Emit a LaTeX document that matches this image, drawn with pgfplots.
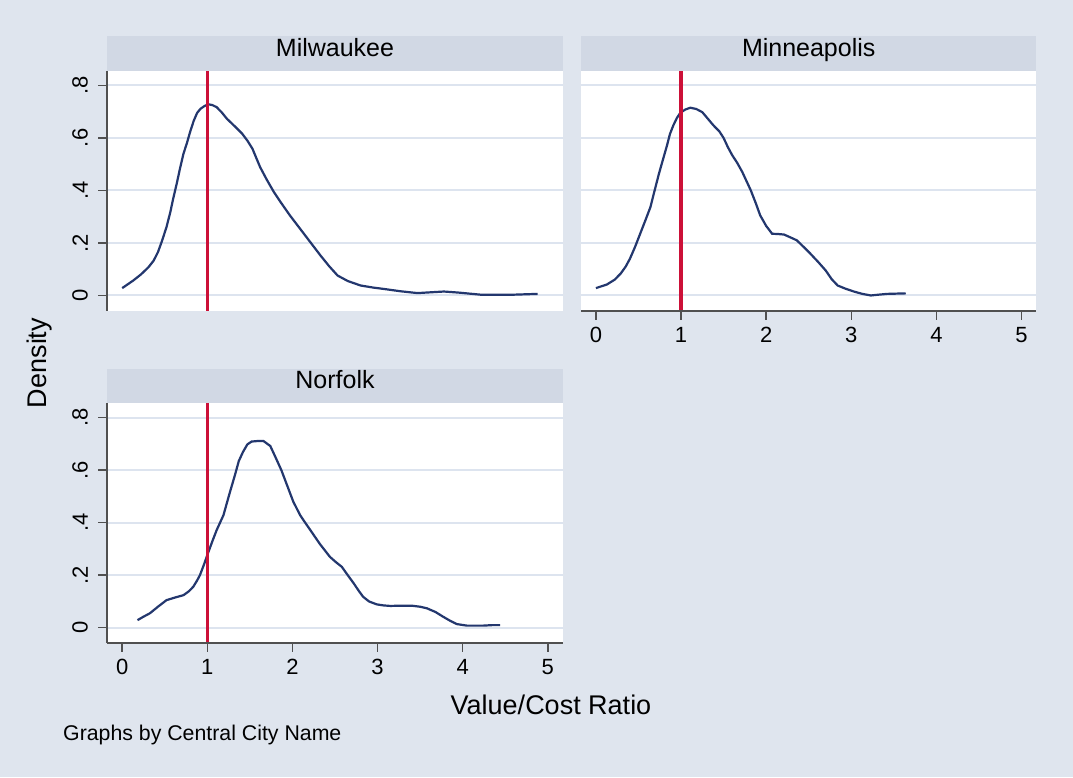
\documentclass[border=0pt]{standalone}
\usepackage{fontspec}
\setmainfont{Liberation Sans}
\usepackage{pgfplots}
\pgfplotsset{compat=1.18}
\definecolor{bgcol}{HTML}{DFE5EE}
\definecolor{stripcol}{HTML}{D1D8E4}
\definecolor{gridcol}{HTML}{DDE4EF}
\definecolor{axiscol}{HTML}{505050}
\definecolor{curvecol}{RGB}{35,55,110}
\definecolor{redcol}{RGB}{204,16,56}
\pgfplotsset{
  panel/.style={
    scale only axis, width=455.4pt, height=240pt,
    xmin=-0.175, xmax=5.175, ymin=-0.058, ymax=0.856,
    clip=false,
    axis background/.style={fill=white},
    axis line style={draw=none},
    ytick={0,0.2,0.4,0.6,0.8}, yticklabels={0,.2,.4,.6,.8},
    xtick={0,1,2,3,4,5}, xticklabels={0,1,2,3,4,5},
    xtick pos=bottom, ytick pos=left,
    ymajorgrids, major grid style={gridcol, line width=2pt},
    tick style={axiscol, line width=1.5pt},
    major tick length=9pt, tick align=outside,
    /pgf/number format/assume math mode=true,
    every tick label/.append style={font=\fontsize{22}{26}\selectfont},
    yticklabel style={rotate=90, anchor=south, yshift=7pt},
    xticklabel style={yshift=-4pt},
  },
  dens/.style={curvecol, line width=2.2pt},
  refl/.style={redcol, line width=3.5pt},
}
\begin{document}
\begin{tikzpicture}
\fill[bgcol] (0,0) rectangle (1073pt,777pt);
\useasboundingbox (0,0) rectangle (1073pt,777pt);

% strips
\fill[stripcol] (107.3pt,706.3pt) rectangle (562.7pt,740.6pt);
\fill[stripcol] (581pt,706.3pt) rectangle (1036.4pt,740.6pt);
\fill[stripcol] (107.3pt,374.3pt) rectangle (562.7pt,407.7pt);
\node[font=\fontsize{25}{30}\selectfont, text height=0.75em, text depth=0.25em] at (335pt,723.45pt) {Milwaukee};
\node[font=\fontsize{25}{30}\selectfont, text height=0.75em, text depth=0.25em] at (808.7pt,723.45pt) {Minneapolis};
\node[font=\fontsize{25}{30}\selectfont, text height=0.75em, text depth=0.25em] at (335pt,391pt) {Norfolk};

% Milwaukee
\begin{axis}[panel, at={(107.3pt,466.3pt)}, anchor=south west, xtick=\empty]
\addplot[dens] coordinates {(0.00,0.028) (0.13,0.057) (0.22,0.080) (0.31,0.108) (0.37,0.133) (0.42,0.165) (0.47,0.21) (0.52,0.26) (0.565,0.317) (0.60,0.37) (0.64,0.425) (0.68,0.485) (0.72,0.54) (0.76,0.58) (0.80,0.625) (0.84,0.665) (0.88,0.695) (0.92,0.711) (0.97,0.722) (1.015,0.728) (1.06,0.725) (1.11,0.717) (1.17,0.697) (1.23,0.673) (1.32,0.645) (1.41,0.616) (1.47,0.59) (1.53,0.559) (1.58,0.52) (1.62,0.489) (1.70,0.44) (1.78,0.395) (1.86,0.356) (1.97,0.305) (2.09,0.254) (2.21,0.203) (2.33,0.152) (2.43,0.112) (2.53,0.076) (2.65,0.055) (2.8,0.038) (2.95,0.030) (3.07,0.025) (3.27,0.016) (3.47,0.009) (3.62,0.012) (3.78,0.015) (3.95,0.011) (4.21,0.003) (4.6,0.003) (4.88,0.006)};
\addplot[refl] coordinates {(1,-0.058) (1,0.856)};
\draw[axiscol, line width=2pt] (rel axis cs:0,0) -- (rel axis cs:0,1);
\end{axis}

% Minneapolis
\begin{axis}[panel, at={(581pt,466.3pt)}, anchor=south west, yticklabels={}, ytick style={draw=none}]
\addplot[dens] coordinates {(0,0.028) (0.13,0.042) (0.22,0.06) (0.29,0.083) (0.35,0.11) (0.40,0.14) (0.46,0.185) (0.52,0.235) (0.58,0.285) (0.64,0.336) (0.69,0.40) (0.74,0.463) (0.79,0.52) (0.835,0.571) (0.87,0.615) (0.91,0.648) (0.95,0.675) (0.99,0.695) (1.05,0.708) (1.11,0.715) (1.18,0.71) (1.25,0.698) (1.31,0.675) (1.38,0.648) (1.45,0.625) (1.50,0.60) (1.55,0.565) (1.60,0.535) (1.66,0.505) (1.72,0.47) (1.77,0.435) (1.82,0.40) (1.88,0.35) (1.93,0.305) (2.00,0.265) (2.07,0.235) (2.14,0.234) (2.21,0.232) (2.28,0.222) (2.36,0.21) (2.44,0.185) (2.52,0.159) (2.61,0.128) (2.70,0.095) (2.77,0.062) (2.84,0.038) (2.93,0.026) (3.03,0.015) (3.13,0.006) (3.23,0.0) (3.32,0.003) (3.42,0.006) (3.53,0.007) (3.64,0.008)};
\addplot[refl] coordinates {(1,-0.058) (1,0.856)};
\draw[axiscol, line width=2pt] (rel axis cs:0,0) -- (rel axis cs:1,0);
\end{axis}

% Norfolk
\begin{axis}[panel, at={(107.3pt,134.3pt)}, anchor=south west, ymin=-0.057, ymax=0.857]
\addplot[dens] coordinates {(0.18,0.029) (0.25,0.042) (0.325,0.055) (0.42,0.08) (0.52,0.105) (0.62,0.115) (0.72,0.124) (0.78,0.138) (0.835,0.156) (0.88,0.18) (0.913,0.2) (0.96,0.24) (1.0,0.277) (1.06,0.33) (1.11,0.372) (1.19,0.429) (1.26,0.51) (1.325,0.582) (1.37,0.635) (1.42,0.67) (1.47,0.698) (1.52,0.709) (1.59,0.711) (1.66,0.711) (1.74,0.692) (1.80,0.65) (1.87,0.60) (1.94,0.54) (2.01,0.48) (2.09,0.429) (2.15,0.40) (2.21,0.372) (2.32,0.32) (2.44,0.27) (2.51,0.25) (2.58,0.232) (2.65,0.20) (2.72,0.169) (2.78,0.14) (2.83,0.118) (2.90,0.10) (2.99,0.089) (3.07,0.085) (3.15,0.083) (3.28,0.084) (3.40,0.084) (3.50,0.08) (3.58,0.074) (3.68,0.06) (3.77,0.042) (3.85,0.027) (3.93,0.014) (4.05,0.008) (4.24,0.008) (4.35,0.01) (4.44,0.01)};
\addplot[refl] coordinates {(1,-0.057) (1,0.857)};
\draw[axiscol, line width=2pt] (rel axis cs:0,0) -- (rel axis cs:0,1);
\draw[axiscol, line width=2pt] (rel axis cs:0,0) -- (rel axis cs:1,0);
\end{axis}

\node[rotate=90, font=\fontsize{27}{31}\selectfont] at (40pt,414pt) {Density};
\node[font=\fontsize{27}{31}\selectfont] at (551pt,72pt) {Value/Cost Ratio};
\node[anchor=west, font=\fontsize{21.3}{25}\selectfont, inner sep=0pt] at (63pt,42pt) {Graphs by Central City Name};
\end{tikzpicture}
\end{document}
